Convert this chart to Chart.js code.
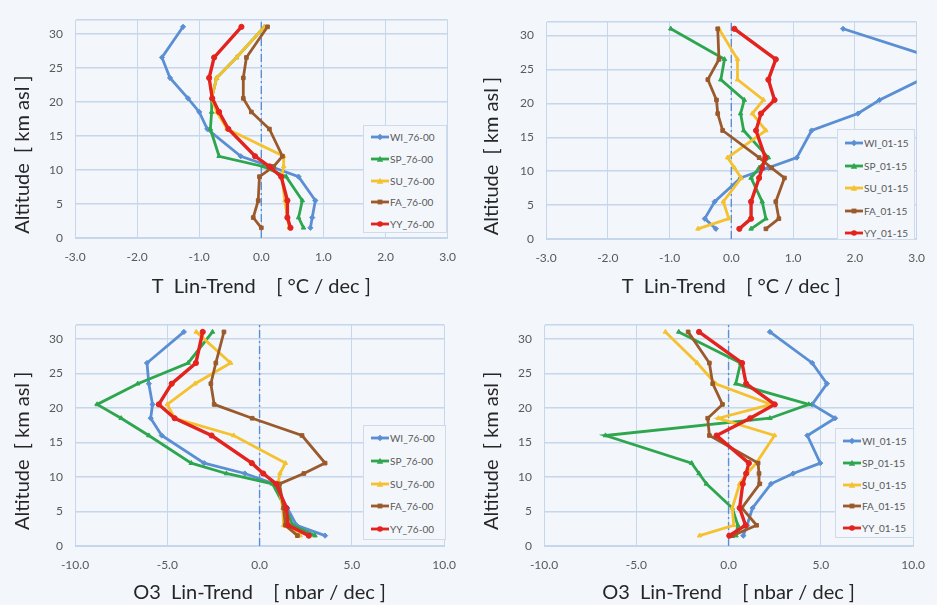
<!DOCTYPE html>
<html>
<head>
<meta charset="utf-8">
<script src="https://cdn.jsdelivr.net/npm/chart.js@4.4.1/dist/chart.umd.min.js"></script>
<style>
  body { margin: 0; width: 937px; height: 605px; overflow: hidden; position: relative; background: #f3f6fb; font-family: Lato, sans-serif; }
  .panel { position: absolute; }
  .legend { position: absolute; background: #f3f6fb; border: 1px solid #cfdbeb; box-sizing: border-box; }
  .legend .row { position: absolute; left: 0; height: 12px; display: flex; align-items: center; font-size: 10px; color: #595959; white-space: nowrap; }
  .legend svg { margin-left: 7px; margin-right: 1px; }
</style>
</head>
<body>
<div class="panel" style="left:0;top:0;width:468px;height:300px"><canvas id="c1"></canvas></div>
<div class="panel" style="left:468px;top:0;width:469px;height:300px"><canvas id="c2"></canvas></div>
<div class="panel" style="left:0;top:300px;width:468px;height:305px"><canvas id="c3"></canvas></div>
<div class="panel" style="left:468px;top:300px;width:469px;height:305px"><canvas id="c4"></canvas></div>

<script>
// altitude levels [km asl]
const ALT = [1.5, 3, 5.5, 9, 10.5, 12, 16, 18.5, 20.5, 23.5, 26.5, 31];
const SEASONS = ['WI', 'SP', 'SU', 'FA', 'YY'];
const Y_MIN = 0, Y_MAX = 32;

// temperature trends 1976-2000 [°C / dec]
const T7600_WI = [0.79, 0.82, 0.87, 0.6, 0.15, -0.33, -0.87, -1.0, -1.18, -1.47, -1.6, -1.26];
const T7600_SP = [0.68, 0.6, 0.66, 0.4, 0.03, -0.68, -0.82, -0.8, -0.8, -0.72, -0.4, 0.05];
const T7600_SU = [0.45, 0.42, 0.38, 0.33, 0.36, 0.36, -0.55, -0.72, -0.8, -0.72, -0.4, 0.05];
const T7600_FA = [0.0, -0.13, -0.05, -0.03, 0.2, 0.34, 0.13, -0.16, -0.29, -0.29, -0.24, 0.1];
const T7600_YY = [0.47, 0.42, 0.42, 0.32, 0.13, -0.1, -0.53, -0.68, -0.79, -0.84, -0.76, -0.32];

// temperature trends 2001-2015 [°C / dec]
const T0115_WI = [-0.25, -0.43, -0.27, 0.15, 0.6, 1.06, 1.3, 2.05, 2.4, 3.07, 3.35, 1.81];
const T0115_SP = [0.32, 0.56, 0.5, 0.32, 0.45, 0.6, 0.2, 0.15, 0.21, -0.17, -0.11, -0.98];
const T0115_SU = [-0.54, -0.04, -0.13, 0.16, 0.05, -0.06, 0.56, 0.34, 0.52, 0.1, 0.1, -0.2];
const T0115_FA = [0.56, 0.77, 0.72, 0.86, 0.65, 0.45, -0.14, -0.22, -0.24, -0.38, -0.2, -0.22];
const T0115_YY = [0.13, 0.32, 0.32, 0.45, 0.5, 0.55, 0.4, 0.48, 0.7, 0.6, 0.72, 0.05];

// ozone trends 1976-2000 [nbar / dec]
const O7600_WI = [3.55, 2.0, 1.5, 0.8, -0.8, -3.0, -5.3, -5.9, -5.8, -6.0, -6.1, -4.1];
const O7600_SP = [3.0, 1.8, 1.4, 0.7, -1.8, -3.7, -6.0, -7.5, -8.8, -6.6, -3.87, -2.55];
const O7600_SU = [2.2, 1.3, 1.26, 1.0, 1.1, 1.4, -1.4, -4.6, -5.0, -3.5, -1.57, -3.43];
const O7600_FA = [2.05, 1.4, 1.3, 1.08, 2.4, 3.55, 2.3, -0.4, -2.46, -2.64, -2.37, -1.93];
const O7600_YY = [2.67, 1.55, 1.45, 0.9, 0.2, -0.42, -2.6, -4.6, -5.46, -4.76, -3.45, -3.08];

// ozone trends 2001-2015 [nbar / dec]
const O0115_WI = [0.8, 1.0, 1.3, 2.3, 3.5, 4.97, 4.27, 5.77, 4.53, 5.33, 4.53, 2.24];
const O0115_SP = [0.4, 0.5, 0.2, -1.2, -1.6, -2.0, -6.67, 2.24, 4.35, 0.39, 0.65, -2.7];
const O0115_SU = [-1.57, 0.28, 0.2, 0.6, 1.0, 1.5, 2.49, -0.55, 2.3, -0.7, -1.7, -3.42];
const O0115_FA = [0.21, 1.52, 0.72, 1.69, 1.65, 1.6, -1.04, -1.13, -0.33, -0.86, -1.04, -2.19];
const O0115_YY = [0.04, 0.92, 0.6, 0.77, 0.95, 1.1, -0.65, 1.17, 2.5, 0.95, 0.73, -1.6];

const COLORS = ['#5b8fd3', '#2ea64e', '#f5c12e', '#9b5a2c', '#e3231e'];
const MARKERS = ['rectRot', 'triangle', 'triangle', 'rect', 'circle'];
const GRID = '#c6d6ec';
const FONT = 'Lato';

function legend(suffix, box) {
  const el = document.createElement('div');
  el.className = 'legend';
  el.style.cssText += `left:${box.x}px;top:${box.y}px;width:${box.w}px;height:${box.h}px`;
  SEASONS.forEach((s, i) => {
    const row = document.createElement('div');
    row.className = 'row';
    row.style.top = (box.first + i * box.gap - 6) + 'px';
    const c = COLORS[i];
    let mk = `<circle cx="9" cy="5" r="2.8" fill="${c}"/>`;
    if (MARKERS[i] === 'rectRot') mk = `<polygon points="9,1.8 12.2,5 9,8.2 5.8,5" fill="${c}"/>`;
    if (MARKERS[i] === 'triangle') mk = `<polygon points="9,1.8 12.2,7.8 5.8,7.8" fill="${c}"/>`;
    if (MARKERS[i] === 'rect') mk = `<rect x="6.6" y="2.6" width="4.8" height="4.8" fill="${c}"/>`;
    row.innerHTML = `<svg width="18" height="10"><line x1="0" y1="5" x2="18" y2="5" stroke="${c}" stroke-width="2.8"/>${mk}</svg>${s}_${suffix}`;
    el.appendChild(row);
  });
  document.body.appendChild(el);
}

function panel(id, rows, suffix, xr, xTitle, g) {
  const datasets = rows.map((vals, i) => ({
    label: SEASONS[i] + '_' + suffix,
    data: vals.map((v, k) => ({ x: v, y: ALT[k] })),
    showLine: true,
    borderColor: COLORS[i],
    backgroundColor: COLORS[i],
    borderWidth: i === 4 ? 3.4 : 2.8,
    pointStyle: MARKERS[i],
    pointRadius: 2.6,
    pointBorderWidth: 1,
    order: 5 - i
  }));
  // dash-dot zero line
  datasets.push({
    label: 'zero',
    data: [{ x: 0, y: Y_MIN }, { x: 0, y: Y_MAX }],
    showLine: true,
    borderColor: '#5b8fd3',
    borderWidth: 1.4,
    borderDash: [8, 3, 2, 3],
    pointRadius: 0,
    order: 10
  });

  new Chart(document.getElementById(id), {
    type: 'scatter',
    data: { datasets },
    options: {
      responsive: true,
      maintainAspectRatio: false,
      animation: false,
      layout: { padding: { left: 0, right: g.padR, top: g.padT, bottom: 0 } },
      plugins: { legend: { display: false }, tooltip: { enabled: false } },
      scales: {
        x: {
          type: 'linear', min: xr[0], max: xr[1],
          ticks: { stepSize: xr[2], padding: 12, color: '#595959', font: { family: FONT, size: 12 }, maxRotation: 0,
                   callback: v => v.toFixed(1) },
          grid: { color: GRID, lineWidth: 1, drawTicks: false },
          border: { color: GRID },
          title: { display: true, text: xTitle, color: '#262626', font: { family: FONT, size: 20 },
                   padding: { top: 0, bottom: g.xtp } },
          afterFit: s => { s.height = g.xh; }
        },
        y: {
          type: 'linear', min: Y_MIN, max: Y_MAX,
          ticks: { stepSize: 5, padding: 12, color: '#595959', font: { family: FONT, size: 12 },
                   callback: v => (v % 5 === 0 ? v : '') },
          grid: { color: GRID, lineWidth: 1.5, drawTicks: false },
          border: { color: GRID },
          title: { display: true, text: 'Altitude  [ km asl ]' + ' '.repeat(g.sp), color: '#262626',
                   font: { family: FONT, size: 20 }, padding: { top: g.ytp, bottom: 0 } },
          afterFit: s => { s.width = g.yw; }
        }
      }
    }
  });
}

const T_TITLE = 'T  Lin-Trend    [ \u00b0C / dec ]';
const O_TITLE = 'O3  Lin-Trend    [ nbar / dec ]';

panel('c1', [T7600_WI, T7600_SP, T7600_SU, T7600_FA, T7600_YY], '76-00', [-3, 3, 1], T_TITLE,
  { yw: 75, padR: 13, padT: 20, xh: 62, xtp: 1, ytp: 11, sp: 10 });
panel('c2', [T0115_WI, T0115_SP, T0115_SU, T0115_FA, T0115_YY], '01-15', [-3, 3, 1], T_TITLE,
  { yw: 78, padR: 17, padT: 22, xh: 61, xtp: 1, ytp: 12, sp: 10 });
panel('c3', [O7600_WI, O7600_SP, O7600_SU, O7600_FA, O7600_YY], '76-00', [-10, 10, 5], O_TITLE,
  { yw: 75, padR: 16, padT: 25, xh: 59, xtp: 0, ytp: 11, sp: 6 });
panel('c4', [O0115_WI, O0115_SP, O0115_SU, O0115_FA, O0115_YY], '01-15', [-10, 10, 5], O_TITLE,
  { yw: 76, padR: 15, padT: 25, xh: 59, xtp: 0, ytp: 12, sp: 6 });

legend('76-00', { x: 363, y: 125, w: 84, h: 108, first: 11, gap: 21.75 });
legend('01-15', { x: 837, y: 129, w: 78, h: 111, first: 13, gap: 22.5 });
legend('76-00', { x: 363, y: 425, w: 83, h: 115, first: 12, gap: 22.75 });
legend('01-15', { x: 835, y: 428, w: 79, h: 110, first: 12, gap: 21.75 });
</script>
</body>
</html>
